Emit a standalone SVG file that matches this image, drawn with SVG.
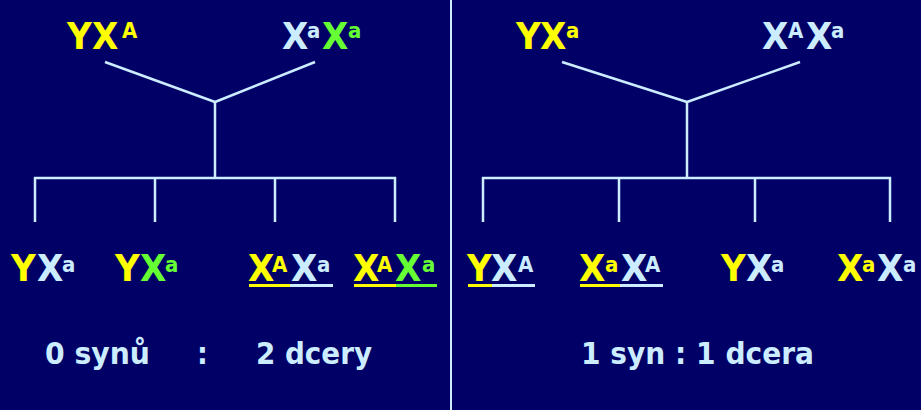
<svg xmlns="http://www.w3.org/2000/svg" width="921" height="410" viewBox="0 0 921 410">
<style>
text{font-family:"DejaVu Sans Condensed","DejaVu Sans",sans-serif;font-weight:bold;font-stretch:condensed}
.big{font-size:38px}
.sup{font-size:22px}
.lbl{font-size:30px;fill:#CCECFF}
.y{fill:#FFFF00}.b{fill:#CCECFF}.g{fill:#66FF33}
.con line{stroke:#CCECFF;stroke-width:2.5;fill:none}
.ul{stroke-width:3}
</style>
<rect width="921" height="410" fill="#000066"/>
<line x1="451" y1="0" x2="451" y2="410" stroke="#CCECFF" stroke-width="2"/>
<g id="connectors" class="con">
<line x1="105" y1="62" x2="215" y2="102"/>
<line x1="315" y1="62" x2="215" y2="102"/>
<line x1="215" y1="101" x2="215" y2="178"/>
<line x1="34" y1="178" x2="396" y2="178"/>
<line x1="35" y1="177" x2="35" y2="222"/>
<line x1="155" y1="177" x2="155" y2="222"/>
<line x1="275" y1="177" x2="275" y2="222"/>
<line x1="395" y1="177" x2="395" y2="222"/>
<line x1="562" y1="62" x2="687" y2="102"/>
<line x1="800" y1="62" x2="687" y2="102"/>
<line x1="687" y1="101" x2="687" y2="178"/>
<line x1="482" y1="178" x2="891" y2="178"/>
<line x1="483" y1="177" x2="483" y2="222"/>
<line x1="619" y1="177" x2="619" y2="222"/>
<line x1="755" y1="177" x2="755" y2="222"/>
<line x1="890" y1="177" x2="890" y2="222"/>
</g>
<g id="p1">
<text class="big"><tspan class="y" x="67" y="49">Y</tspan><tspan class="y" x="92" y="49">X</tspan><tspan class="y sup" x="122" y="38">A</tspan></text>
</g>
<g id="p2">
<text class="big"><tspan class="b" x="282" y="49">X</tspan><tspan class="b sup" x="307" y="38">a</tspan><tspan class="g" x="322" y="49">X</tspan><tspan class="g sup" x="348" y="38">a</tspan></text>
</g>
<g id="p3">
<text class="big"><tspan class="y" x="516" y="49">Y</tspan><tspan class="y" x="540" y="49">X</tspan><tspan class="y sup" x="566" y="38">a</tspan></text>
</g>
<g id="p4">
<text class="big"><tspan class="b" x="762" y="49">X</tspan><tspan class="b sup" x="788" y="38">A</tspan><tspan class="b" x="806" y="49">X</tspan><tspan class="b sup" x="831" y="38">a</tspan></text>
</g>
<g id="c1">
<text class="big"><tspan class="y" x="11" y="281">Y</tspan><tspan class="b" x="37" y="281">X</tspan><tspan class="b sup" x="62" y="272">a</tspan></text>
</g>
<g id="c2">
<text class="big"><tspan class="y" x="115" y="281">Y</tspan><tspan class="g" x="140" y="281">X</tspan><tspan class="g sup" x="165" y="272">a</tspan></text>
</g>
<g id="c3">
<text class="big"><tspan class="y" x="248" y="281">X</tspan><tspan class="y sup" x="272" y="272">A</tspan><tspan class="b" x="291" y="281">X</tspan><tspan class="b sup" x="317" y="272">a</tspan></text>
<line class="ul" x1="249" y1="285.5" x2="290" y2="285.5" stroke="#FFFF00"/>
<line class="ul" x1="290" y1="285.5" x2="333" y2="285.5" stroke="#CCECFF"/>
</g>
<g id="c4">
<text class="big"><tspan class="y" x="353" y="281">X</tspan><tspan class="y sup" x="377" y="272">A</tspan><tspan class="g" x="395" y="281">X</tspan><tspan class="g sup" x="422" y="272">a</tspan></text>
<line class="ul" x1="354" y1="285.5" x2="396" y2="285.5" stroke="#FFFF00"/>
<line class="ul" x1="396" y1="285.5" x2="437" y2="285.5" stroke="#66FF33"/>
</g>
<g id="c5">
<text class="big"><tspan class="y" x="467" y="281">Y</tspan><tspan class="b" x="491" y="281">X</tspan><tspan class="b sup" x="518" y="272">A</tspan></text>
<line class="ul" x1="468" y1="285.5" x2="492" y2="285.5" stroke="#FFFF00"/>
<line class="ul" x1="492" y1="285.5" x2="535" y2="285.5" stroke="#CCECFF"/>
</g>
<g id="c6">
<text class="big"><tspan class="y" x="579" y="281">X</tspan><tspan class="y sup" x="605" y="272">a</tspan><tspan class="b" x="621" y="281">X</tspan><tspan class="b sup" x="645" y="272">A</tspan></text>
<line class="ul" x1="580" y1="285.5" x2="620" y2="285.5" stroke="#FFFF00"/>
<line class="ul" x1="620" y1="285.5" x2="663" y2="285.5" stroke="#CCECFF"/>
</g>
<g id="c7">
<text class="big"><tspan class="y" x="721" y="281">Y</tspan><tspan class="b" x="746" y="281">X</tspan><tspan class="b sup" x="771" y="272">a</tspan></text>
</g>
<g id="c8">
<text class="big"><tspan class="y" x="837" y="281">X</tspan><tspan class="y sup" x="862" y="272">a</tspan><tspan class="b" x="877" y="281">X</tspan><tspan class="b sup" x="903" y="272">a</tspan></text>
</g>
<g id="ratio-left">
<text class="lbl" x="45" y="364" textLength="105" lengthAdjust="spacingAndGlyphs">0 synů</text>
<text class="lbl" x="197" y="364">:</text>
<text class="lbl" x="256" y="364" textLength="116" lengthAdjust="spacingAndGlyphs">2 dcery</text>
</g>
<g id="ratio-right">
<text class="lbl" x="581" y="364" textLength="233" lengthAdjust="spacingAndGlyphs">1 syn : 1 dcera</text>
</g>
</svg>
